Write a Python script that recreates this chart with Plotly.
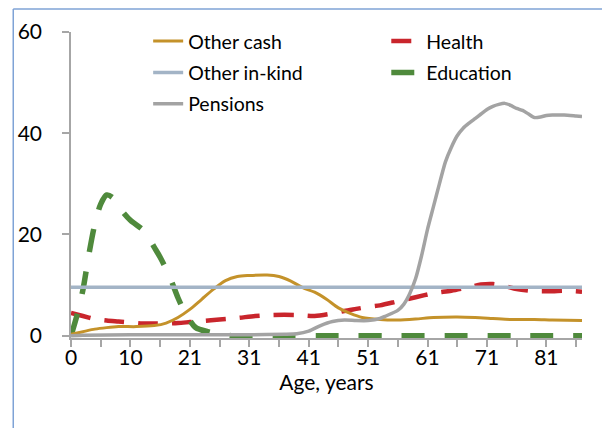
import plotly.graph_objects as go

# Age category positions (index along category axis) and tick labels
tick_positions = list(range(0, 86, 5))
tick_labels = ["0", "", "10", "", "21", "", "31", "", "41", "", "51", "", "61", "", "71", "", "81", ""]
y_ticks = [0, 20, 40, 60]

# Other cash
cash_x = [0, 2, 4, 6, 8, 11, 14, 16, 18, 20, 22, 24, 26, 28, 30, 33, 35, 37, 39, 41, 43, 45, 47, 49, 52, 55, 58, 61, 65, 68, 71, 74, 78, 81, 86]
cash_y = [0.3, 0.8, 1.3, 1.6, 1.8, 1.8, 2.0, 2.5, 3.6, 5.2, 7.2, 9.2, 10.9, 11.7, 11.9, 12.0, 11.7, 10.8, 9.5, 8.6, 7.2, 5.5, 4.4, 3.6, 3.2, 3.1, 3.3, 3.6, 3.7, 3.6, 3.4, 3.2, 3.2, 3.1, 3.0]

# Health
health_x = [0, 2, 4, 6, 8, 10, 12, 14, 16, 18, 20, 22, 25, 28, 31, 34, 38, 41, 44, 46, 48, 50, 52, 55, 58, 61, 64, 67, 69, 71, 73, 75, 78, 81, 83, 86]
health_y = [4.5, 3.9, 3.3, 3.0, 2.8, 2.6, 2.4, 2.4, 2.4, 2.5, 2.7, 2.9, 3.2, 3.5, 3.9, 4.1, 4.1, 3.9, 4.4, 4.9, 5.3, 5.7, 6.0, 6.8, 7.6, 8.4, 8.9, 9.6, 10.1, 10.2, 9.8, 9.2, 8.8, 8.8, 8.9, 8.7]

# Other in-kind
inkind_x = [0, 86]
inkind_y = [9.6, 9.6]

# Education
edu_x = [0, 1, 2, 3, 4, 5, 6, 7, 8, 10, 12, 13, 14, 15, 16, 17, 18, 19, 20, 21, 23, 25, 27, 35, 45, 55, 65, 75, 86]
edu_y = [0, 4, 9, 16, 22, 26, 27.8, 27.3, 25.5, 22.8, 21, 19.5, 17.5, 15.5, 13.2, 10.5, 7.5, 5, 3, 1.6, 0.8, 0.3, 0, 0, 0, 0, 0, 0, 0]

# Pensions
pens_x = [0, 2, 10, 20, 30, 36, 38, 40, 42, 44, 46, 48, 50, 52, 53, 55, 56, 57, 58, 59, 60, 61, 62, 63, 64, 65, 66, 67, 68, 69, 70, 71, 72, 73, 74, 75, 76, 77, 78, 79, 80, 81, 83, 85, 86]
pens_y = [0, 0.1, 0.2, 0.2, 0.2, 0.3, 0.4, 0.9, 2.0, 2.8, 3.1, 3.0, 3.0, 3.4, 3.9, 5.0, 6.2, 8.3, 11.3, 15.8, 21, 25.5, 30, 34.3, 37.2, 39.5, 41, 42, 42.9, 43.8, 44.7, 45.3, 45.7, 45.9, 45.5, 44.9, 44.5, 43.8, 43.1, 43.2, 43.5, 43.6, 43.6, 43.4, 43.3]

FONT = "Lato"

fig = go.Figure()
fig.add_trace(go.Scatter(x=health_x, y=health_y, name="Health", mode="lines", legend="legend2",
                         legendgroup="h", legendrank=1,
                         line=dict(color="#C9252C", width=4.5, dash="20px,14px", shape="spline", smoothing=0.8)))
fig.add_trace(go.Scatter(x=edu_x, y=edu_y, name="Education", mode="lines", legend="legend2",
                         legendgroup="e", legendrank=2,
                         line=dict(color="#4F8A3C", width=5.5, dash="23px,20px", shape="spline", smoothing=0.8)))
fig.add_trace(go.Scatter(x=cash_x, y=cash_y, name="Other cash", mode="lines", legend="legend",
                         legendgroup="c", legendrank=1,
                         line=dict(color="#C4922A", width=3, shape="spline", smoothing=0.8)))
fig.add_trace(go.Scatter(x=inkind_x, y=inkind_y, name="Other in-kind", mode="lines", legend="legend",
                         legendgroup="k", legendrank=2,
                         line=dict(color="#A3B4C6", width=3.5)))
fig.add_trace(go.Scatter(x=pens_x, y=pens_y, name="Pensions", mode="lines", legend="legend",
                         legendgroup="p", legendrank=3,
                         line=dict(color="#A3A3A3", width=3.5, shape="spline", smoothing=0.6)))

legend_common = dict(xanchor="left", yanchor="top", orientation="v", traceorder="grouped",
                     tracegroupgap=3, font=dict(family=FONT, size=19.5, color="#000000"),
                     bgcolor="rgba(0,0,0,0)", itemwidth=30)

fig.update_layout(
    width=602, height=428,
    margin=dict(l=71, r=20, t=32, b=90),
    paper_bgcolor="white", plot_bgcolor="white",
    font=dict(family=FONT, size=21, color="#000000"),
    showlegend=True,
    legend=dict(x=0.151, y=1.033, **legend_common),
    legend2=dict(x=0.617, y=1.033, **legend_common),
    xaxis=dict(range=[0, 86], tickmode="array", tickvals=tick_positions, ticktext=tick_labels,
               showgrid=False, zeroline=False, showline=True, linecolor="#A6A6A6", linewidth=1.5,
               ticks="outside", ticklen=7, tickcolor="#A6A6A6", tickwidth=1.5,
               tickfont=dict(family=FONT, size=21), ticklabelstandoff=-7,
               title=dict(text="Age, years", font=dict(family=FONT, size=21), standoff=0)),
    yaxis=dict(range=[-0.45, 60], tickmode="array", tickvals=y_ticks,
               showgrid=False, zeroline=False, showline=True, linecolor="#A6A6A6", linewidth=1.5,
               ticks="outside", ticklen=7, tickcolor="#A6A6A6", tickwidth=1.5,
               tickfont=dict(family=FONT, size=21), ticklabelstandoff=16),
)

# chart-area frame (left and top edges visible)
fig.add_shape(type="line", xref="paper", yref="paper", x0=-0.113, x1=-0.113, y0=1.075, y1=-0.3,
              line=dict(color="#7FA3D6", width=1.5))
fig.add_shape(type="line", xref="paper", yref="paper", x0=-0.113, x1=1.1, y0=1.075, y1=1.075,
              line=dict(color="#7FA3D6", width=1.5))

fig.write_html("out.html", config={"displayModeBar": False},
               post_script="document.body.style.margin='0px';")
